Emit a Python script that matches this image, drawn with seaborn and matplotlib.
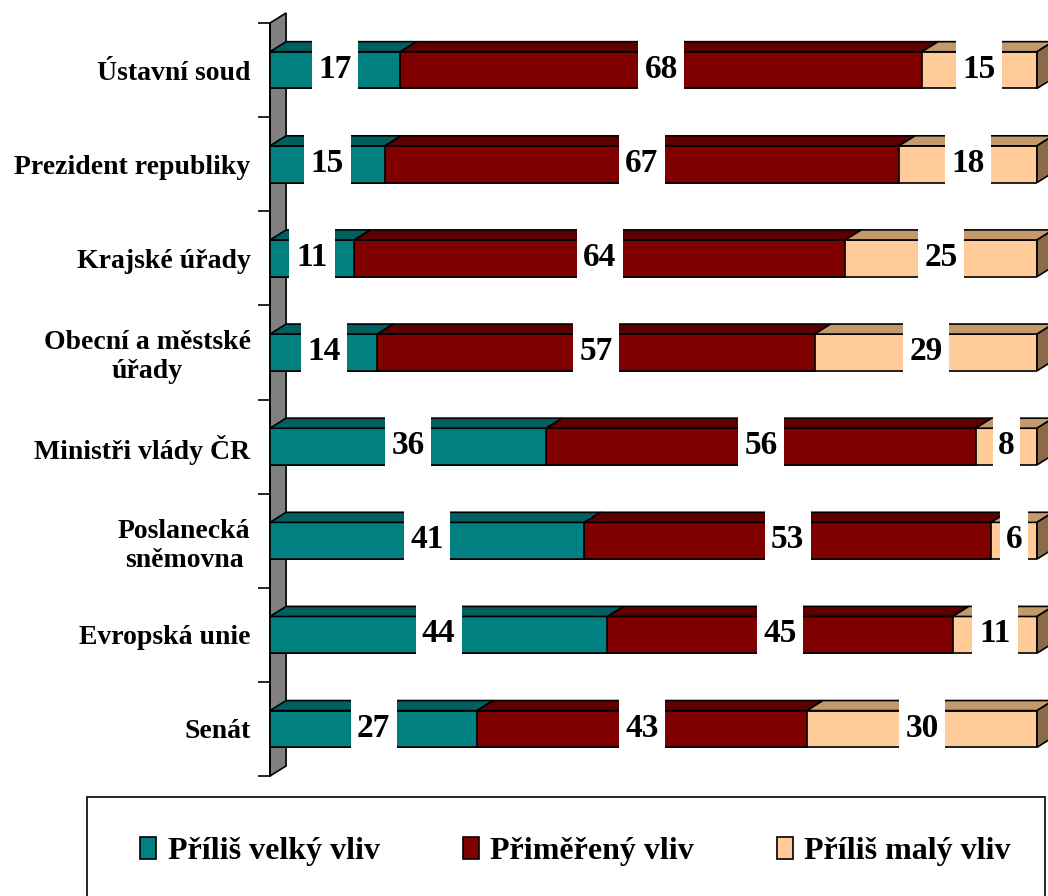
import matplotlib
matplotlib.use("Agg")
import matplotlib.pyplot as plt
from matplotlib.patches import Polygon, Rectangle, Patch
import seaborn as sns
import numpy as np

# data (percent), rows top to bottom
categories = ["Ústavní soud", "Prezident republiky", "Krajské úřady",
              "Obecní a městské\núřady", "Ministři vlády ČR",
              "Poslanecká\nsněmovna", "Evropská unie", "Senát"]
too_big = [17, 15, 11, 14, 36, 41, 44, 27]
adequate = [68, 67, 64, 57, 56, 53, 45, 43]
too_small = [15, 18, 25, 29, 8, 6, 11, 30]
series_names = ["Příliš velký vliv", "Přiměřený vliv", "Příliš malý vliv"]

front_colors = ["#008080", "#800000", "#FFCC99"]
top_colors = ["#005F5F", "#5E0000", "#C49A6C"]
side_color = "#8A6A48"
wall_color = "#808080"

sns.set_style("white")
plt.rcParams["font.family"] = ["Liberation Serif", "DejaVu Serif"]
plt.rcParams["font.weight"] = "bold"
plt.rcParams["text.color"] = "black"
plt.rcParams["ytick.color"] = "black"
plt.rcParams["ytick.labelcolor"] = "black"

fig = plt.figure(figsize=(10.48, 8.96), dpi=100)
ax = fig.add_axes([0.2576, 0.1339, 0.9895 - 0.2576, 0.9743 - 0.1339])

vals = np.array([too_big, adequate, too_small], dtype=float)
cum = np.cumsum(vals, axis=0)
bar_h = 0.39
dx, dy = 2.1, 0.107

# wall on the left
n = len(categories)
wall = Polygon([(0, n - 0.5), (0, -0.5), (dx, -0.5 - dy), (dx, n - 0.5 - dy)],
               closed=True, fc=wall_color, ec="black", lw=1.2, zorder=1, clip_on=False)
ax.add_patch(wall)

# front faces: draw cumulative totals, widest first
for k in [2, 1, 0]:
    sns.barplot(x=cum[k], y=categories, orient="h", color=front_colors[k],
                saturation=1, edgecolor="black", linewidth=1.2, width=bar_h,
                ax=ax, zorder=3)

# top and side faces
for i in range(n):
    y0 = i - bar_h / 2
    left = 0.0
    for k in range(3):
        right = cum[k][i]
        top = Polygon([(left, y0), (right, y0), (right + dx, y0 - dy), (left + dx, y0 - dy)],
                      closed=True, fc=top_colors[k], ec="black", lw=1.2, zorder=3, clip_on=False)
        ax.add_patch(top)
        left = right
    side = Polygon([(left, y0), (left + dx, y0 - dy), (left + dx, y0 + bar_h - dy), (left, y0 + bar_h)],
                   closed=True, fc=side_color, ec="black", lw=1.2, zorder=3, clip_on=False)
    ax.add_patch(side)

# value labels in white boxes
for i in range(n):
    start = 0.0
    for k in range(3):
        v = vals[k][i]
        cx = start + v / 2
        w = 1.1 + 2.45 * len(str(int(v)))
        ax.add_patch(Rectangle((cx - w / 2, i - 0.32), w, 0.53, fc="white", ec="none",
                               zorder=4, clip_on=False))
        ax.text(cx, i - 0.01, str(int(v)), ha="center", va="center", fontsize=24,
                fontweight="bold", color="black", zorder=5)
        start += v

ax.set_xlim(0, 100)
ax.set_ylim(n - 0.5, -0.5)
ax.set_xlabel("")
ax.set_ylabel("")
ax.set_xticks([])
ax.set_yticks(range(n))
ax.set_yticklabels(categories, fontsize=20, fontweight="bold", multialignment="center",
                   color="black")
ax.set_yticks(np.arange(-0.5, n, 1), minor=True)
ax.tick_params(axis="y", which="major", left=False, length=0, pad=14)
ax.tick_params(axis="y", which="minor", left=True, length=9, width=1.2, color="black",
               direction="out")
for s in ["top", "right", "bottom"]:
    ax.spines[s].set_visible(False)
ax.spines["left"].set_color("black")
ax.spines["left"].set_linewidth(1.2)
ax.spines["left"].set_zorder(2)

# legend with its own frame
fig.patches.append(Rectangle((0.083, -0.02), 0.914, 0.1305, transform=fig.transFigure,
                             fc="white", ec="black", lw=1.2))
handles = [Patch(fc=c, ec="black", lw=1.2) for c in front_colors]
fig.legend(handles, series_names, loc="center", bbox_to_anchor=(0.549, 0.05), ncol=3,
           frameon=False, handlelength=0.5, handleheight=0.7,
           handletextpad=0.35, columnspacing=2.6, prop={"weight": "bold", "size": 23})

fig.savefig("out.png", dpi=100)
